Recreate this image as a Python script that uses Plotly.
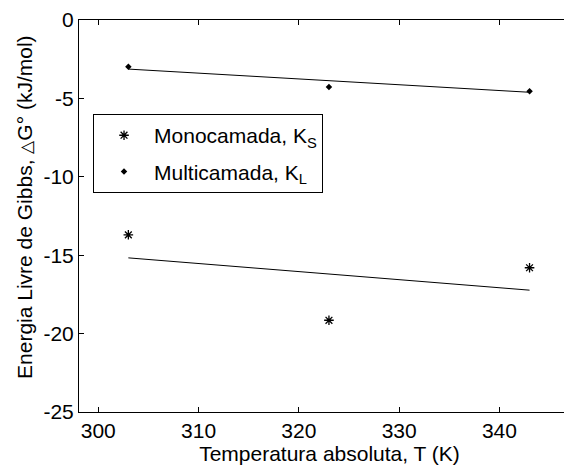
import plotly.graph_objects as go

T = [303, 323, 343]
mono_G = [-13.7, -19.15, -15.8]
multi_G = [-2.98, -4.27, -4.55]
mono_fit = [-15.17, -17.23]
multi_fit = [-3.13, -4.61]
fit_T = [303, 343]
x_ticks = [300, 310, 320, 330, 340]
y_ticks = [0, -5, -10, -15, -20, -25]
y_tick_labels = ["0", "-5", "-10", "-15", "-20", "-25"]

FONT = "Liberation Sans, Arial, sans-serif"

fig = go.Figure()
fig.add_trace(go.Scatter(x=fit_T, y=mono_fit, mode="lines", line=dict(color="black", width=1), showlegend=False))
fig.add_trace(go.Scatter(x=fit_T, y=multi_fit, mode="lines", line=dict(color="black", width=1), showlegend=False))
fig.add_trace(go.Scatter(x=T, y=mono_G, mode="markers", name="Monocamada, K<sub>S</sub>",
                         legendgroup="a",
                         marker=dict(symbol="asterisk-open", size=8, color="black", line=dict(color="black", width=1.3))))
fig.add_trace(go.Scatter(x=T, y=multi_G, mode="markers", name="Multicamada, K<sub>L</sub>",
                         legendgroup="b",
                         marker=dict(symbol="diamond", size=5, color="black")))

fig.update_layout(
    width=572, height=466,
    margin=dict(l=71, r=0, t=12, b=62),
    paper_bgcolor="white", plot_bgcolor="white",
    font=dict(family=FONT, size=21, color="black"),
    legend=dict(x=0.028, y=0.76, xanchor="left", yanchor="top",
                bordercolor="black", borderwidth=1, bgcolor="white",
                font=dict(size=21), tracegroupgap=6, traceorder="grouped",
                itemwidth=50),
    annotations=[dict(text="Energia Livre de Gibbs, <span style=\"font-size:17px\">△</span>G° (kJ/mol)",
                      xref="paper", yref="paper", x=-0.1078, y=0.523, xanchor="center", yanchor="middle",
                      textangle=-90, showarrow=False, font=dict(size=21))],
)
fig.update_xaxes(range=[298.08, 348.03], tickvals=x_ticks,
                 ticks="inside", ticklen=5, tickcolor="black", showline=True, linecolor="black",
                 linewidth=1, mirror="ticks", showgrid=False, zeroline=False, automargin=False,
                 title=dict(text="Temperatura absoluta, T (K)", font=dict(size=21), standoff=4),
                 tickfont=dict(size=21))
fig.update_yaxes(range=[-25, 0], tickvals=y_ticks, ticktext=y_tick_labels,
                 ticks="inside", ticklen=5, tickcolor="black", showline=True, linecolor="black",
                 linewidth=1, mirror=False, showgrid=False, zeroline=False, automargin=False,
                 tickfont=dict(size=21))

fig.write_html("out.html")
